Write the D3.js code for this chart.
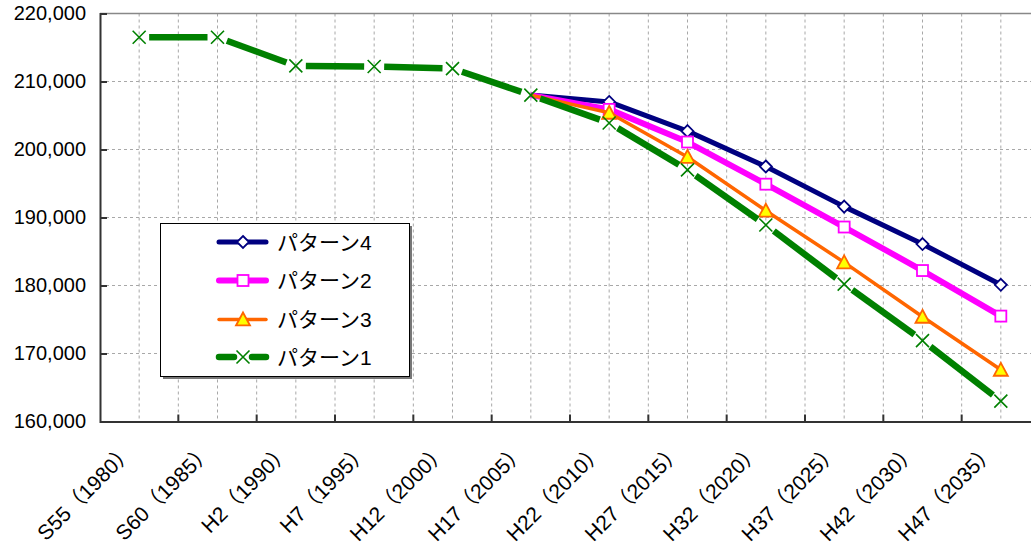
<!DOCTYPE html>
<html>
<head>
<meta charset="utf-8">
<script src="https://cdn.jsdelivr.net/npm/d3@7"></script>
<style>
  html, body { margin: 0; padding: 0; background: #fff; }
  svg { display: block; }
  text { font-family: "Liberation Sans", Arial, "Noto Sans CJK JP", sans-serif; fill: #000; }
</style>
</head>
<body>
<svg id="chart" width="1031" height="548"></svg>
<script>
// ---- data ----
const categories = ["S55（1980）", "S60（1985）", "H2（1990）", "H7（1995）", "H12（2000）", "H17（2005）",
                    "H22（2010）", "H27（2015）", "H32（2020）", "H37（2025）", "H42（2030）", "H47（2035）"];
const yTicks = [160000, 170000, 180000, 190000, 200000, 210000, 220000];
const seriesNames = ["パターン4", "パターン2", "パターン3", "パターン1"];
const pattern4 = [null, null, null, null, null, 208000, 207000, 202700, 197500, 191600, 186100, 180100];
const pattern2 = [null, null, null, null, null, 208000, 205900, 201100, 194900, 188600, 182200, 175500];
const pattern3 = [null, null, null, null, null, 208000, 205400, 198900, 191000, 183400, 175400, 167600];
const pattern1 = [216500, 216500, 212300, 212200, 211900, 208000, 203900, 197000, 188900, 180200, 171900, 163000];
const seriesValues = [pattern4, pattern2, pattern3, pattern1];

// ---- styles ----
const styles = [
  { color: "#000080", width: 5,   marker: "diamond",  fill: "#ffffff", mstroke: "#000080", gap: 0, firstMarker: 6 },
  { color: "#ff00ff", width: 6,   marker: "square",   fill: "#ffffff", mstroke: "#ff00ff", gap: 0, firstMarker: 6 },
  { color: "#ff6600", width: 3.5, marker: "triangle", fill: "#ffff00", mstroke: "#ff6600", gap: 0, firstMarker: 6 },
  { color: "#008000", width: 6.5, marker: "cross",    fill: "none",    mstroke: "#008000", gap: 10, firstMarker: 0 }
];

const svg = d3.select("#chart");
const pLeft = 100, pRight = 1040, pTop = 13.5, pBottom = 421.5;
const x = d3.scaleBand().domain(categories).range([pLeft, pRight]);
const y = d3.scaleLinear().domain([160000, 220000]).range([pBottom, pTop]);
const cx = c => x(c) + x.bandwidth() / 2;

// gridlines
const grid = svg.append("g");
grid.selectAll("line.h").data(yTicks.filter(v => v !== 160000 && v !== 220000)).join("line")
  .attr("x1", pLeft).attr("x2", 1031).attr("y1", d => y(d)).attr("y2", d => y(d))
  .attr("stroke", "#a8a8a8").attr("stroke-width", 1).attr("stroke-dasharray", "3,3");
const vgrid = [];
categories.forEach(c => { vgrid.push(x(c) + x.bandwidth() / 2); vgrid.push(x(c) + x.bandwidth()); });
grid.selectAll("line.v").data(vgrid).join("line")
  .attr("x1", d => d).attr("x2", d => d).attr("y1", pTop).attr("y2", pBottom)
  .attr("stroke", "#a8a8a8").attr("stroke-width", 1).attr("stroke-dasharray", "3,3");

// top border
svg.append("line").attr("x1", pLeft).attr("x2", 1031).attr("y1", pTop).attr("y2", pTop)
  .attr("stroke", "#888").attr("stroke-width", 1.5);

// y axis
const yAxis = d3.axisLeft(y).tickValues(yTicks).tickFormat(d3.format(",")).tickSize(-7).tickPadding(14);
const gy = svg.append("g").attr("transform", `translate(${pLeft},0)`).call(yAxis);
gy.select(".domain").attr("stroke", "#333").attr("stroke-width", 2);
gy.selectAll(".tick line").attr("stroke", "#333").attr("stroke-width", 2);
gy.selectAll(".tick text").attr("font-size", 20).attr("font-family", null).attr("fill", "#000");

// x axis
const xAxis = d3.axisBottom(x).tickSize(0).tickPadding(0);
const gx = svg.append("g").attr("transform", `translate(0,${pBottom})`).call(xAxis);
gx.select(".domain").attr("stroke", "#333").attr("stroke-width", 2);
gx.selectAll(".tick text")
  .attr("font-size", 21).attr("font-family", null).attr("fill", "#000")
  .attr("x", 0).attr("y", 0).attr("dy", 0)
  .attr("text-anchor", "end")
  .attr("transform", "translate(-4,31) rotate(-45)");
// boundary tick marks (inward)
svg.append("g").selectAll("line").data(categories).join("line")
  .attr("x1", d => x(d) + x.bandwidth()).attr("x2", d => x(d) + x.bandwidth())
  .attr("y1", pBottom).attr("y2", pBottom - 7)
  .attr("stroke", "#333").attr("stroke-width", 2);

// marker drawing
function drawMarker(g, kind, px, py, st) {
  if (kind === "diamond") {
    const r = 6;
    g.append("path").attr("d", `M${px},${py - r}L${px + r},${py}L${px},${py + r}L${px - r},${py}Z`)
      .attr("fill", st.fill).attr("stroke", st.mstroke).attr("stroke-width", 1.8);
  } else if (kind === "square") {
    const r = 5.5;
    g.append("rect").attr("x", px - r).attr("y", py - r).attr("width", 2 * r).attr("height", 2 * r)
      .attr("fill", st.fill).attr("stroke", st.mstroke).attr("stroke-width", 1.8);
  } else if (kind === "triangle") {
    const r = 7;
    g.append("path").attr("d", `M${px},${py - r}L${px + r},${py + r * 0.85}L${px - r},${py + r * 0.85}Z`)
      .attr("fill", st.fill).attr("stroke", st.mstroke).attr("stroke-width", 1.8).attr("stroke-linejoin", "miter");
  } else if (kind === "cross") {
    const r = 6.5;
    g.append("path").attr("d", `M${px - r},${py - r}L${px + r},${py + r}M${px + r},${py - r}L${px - r},${py + r}`)
      .attr("fill", "none").attr("stroke", st.mstroke).attr("stroke-width", 1.6);
  }
}

// series
seriesValues.forEach((vals, si) => {
  const st = styles[si];
  const g = svg.append("g");
  const pts = vals.map((v, i) => v == null ? null : [cx(categories[i]), y(v)]);
  if (st.gap === 0) {
    const line = d3.line().defined(p => p != null);
    g.append("path").attr("d", line(pts)).attr("fill", "none")
      .attr("stroke", st.color).attr("stroke-width", st.width).attr("stroke-linejoin", "round");
  } else {
    for (let i = 0; i < pts.length - 1; i++) {
      if (!pts[i] || !pts[i + 1]) continue;
      const [x1, y1] = pts[i], [x2, y2] = pts[i + 1];
      const dx = x2 - x1, dy = y2 - y1, L = Math.hypot(dx, dy);
      const ux = dx / L, uy = dy / L;
      g.append("line")
        .attr("x1", x1 + ux * st.gap).attr("y1", y1 + uy * st.gap)
        .attr("x2", x2 - ux * st.gap).attr("y2", y2 - uy * st.gap)
        .attr("stroke", st.color).attr("stroke-width", st.width);
    }
  }
  pts.forEach((p, i) => { if (p && i >= st.firstMarker) drawMarker(g, st.marker, p[0], p[1], st); });
});

// legend
const lg = svg.append("g");
const lx = 160.5, ly = 223.5, lw = 249, lh = 153;
lg.append("rect").attr("x", lx + 2.5).attr("y", ly + 2.5).attr("width", lw).attr("height", lh).attr("fill", "#777");
lg.append("rect").attr("x", lx).attr("y", ly).attr("width", lw).attr("height", lh)
  .attr("fill", "#fff").attr("stroke", "#000").attr("stroke-width", 1);
const rowY = [242, 280.5, 319.5, 357];
seriesNames.forEach((name, i) => {
  const st = styles[i];
  const ry = rowY[i];
  const g = lg.append("g");
  if (st.gap === 0) {
    g.append("line").attr("x1", 219).attr("x2", 266).attr("y1", ry).attr("y2", ry)
      .attr("stroke", st.color).attr("stroke-width", st.width).attr("stroke-linecap", "round");
  } else {
    g.append("line").attr("x1", 219).attr("x2", 234).attr("y1", ry).attr("y2", ry)
      .attr("stroke", st.color).attr("stroke-width", st.width).attr("stroke-linecap", "round");
    g.append("line").attr("x1", 252).attr("x2", 266).attr("y1", ry).attr("y2", ry)
      .attr("stroke", st.color).attr("stroke-width", st.width).attr("stroke-linecap", "round");
  }
  drawMarker(g, st.marker, 243, ry, st);
  g.append("text").attr("x", 277).attr("y", ry + 7.5).attr("font-size", 21).text(name);
});
</script>
</body>
</html>
